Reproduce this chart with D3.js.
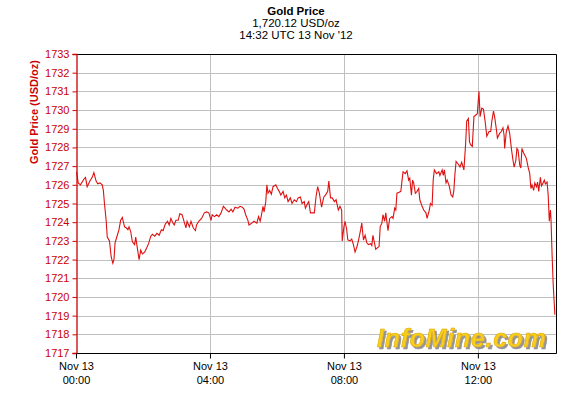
<!DOCTYPE html>
<html>
<head>
<meta charset="utf-8">
<script src="https://cdn.jsdelivr.net/npm/d3@7"></script>
<style>
  body { margin: 0; background: #fff; }
  text { font-family: "Liberation Sans", Arial, sans-serif; }
</style>
</head>
<body>
<script>
// minutes after 00:00 UTC, 13 Nov 2012
var minutes = [1, 4, 8, 14, 17, 20, 25, 29, 32, 36, 39, 43, 47, 49, 51, 54, 56, 60, 63, 66, 68, 70, 74, 77, 80, 83, 85, 87, 90, 93, 95, 98, 101, 105, 107, 110, 113, 116, 119, 123, 127, 130, 134, 137, 141, 145, 149, 153, 156, 160, 164, 167, 170, 173, 176, 179, 183, 186, 190, 193, 197, 199, 203, 206, 210, 214, 216, 220,
  225, 230, 234, 238, 242, 244, 248, 252, 256, 260, 264, 267, 270, 274, 278, 281, 285, 290, 294, 298, 301, 304, 308, 310, 315, 319, 324, 327, 330, 333, 335, 337, 340, 342, 344, 347, 350, 353, 358, 361, 364, 367, 371, 374, 377, 380, 384, 387, 391, 395, 398, 402, 405, 409, 411, 415, 417, 420, 423, 427, 430, 433, 436, 440, 444, 447, 451, 453, 456, 459, 463, 466, 470, 473, 476,
  477, 480, 482, 485, 487, 491, 494, 497, 500, 504, 507, 510, 512, 515, 518, 521, 524, 528, 530, 532, 535, 537, 541, 543, 545, 548, 550, 553, 555, 559, 562, 566, 568, 571, 573, 575, 579, 582, 584, 586, 590, 593, 596, 598, 601, 603, 605, 608, 611, 614, 616, 620, 623, 627, 629, 633, 635, 638, 640, 642, 646, 650, 652, 656, 658, 660, 663, 665, 669, 672, 675, 677, 679,
  681, 685, 688, 691, 694, 695, 698, 700, 703, 705, 707, 710, 713, 717, 719, 722, 724, 727, 730, 733, 736, 740, 743, 745, 748, 750, 753, 755, 759, 762, 765, 767, 768, 771, 774, 777, 780, 783, 785, 788, 790, 792, 795, 797, 799, 802, 804, 807, 810, 813, 815, 817, 820, 822, 825, 827, 829, 832, 834, 836, 839, 841, 844, 846, 848, 850, 851, 853, 855, 858];

var prices = [1726.7, 1726.1, 1726.0, 1726.3, 1726.4, 1725.9, 1726.2, 1726.4, 1726.65, 1726.2, 1726.05, 1726.1, 1726.0, 1725.7, 1725.0, 1724.1, 1723.2, 1723.0, 1722.15, 1721.8, 1722.0, 1722.9, 1723.3, 1723.6, 1724.1, 1724.25, 1724.0, 1723.75, 1723.7, 1723.6, 1723.75, 1723.5, 1722.95, 1722.8, 1723.2, 1722.6, 1722.0, 1722.5, 1722.3, 1722.4, 1722.65, 1722.85, 1723.25, 1723.35, 1723.25, 1723.4, 1723.3, 1723.6, 1723.55, 1723.9, 1724.05, 1723.85, 1724.2, 1724.0, 1723.85, 1724.1, 1724.1, 1724.45, 1724.4, 1724.1, 1723.7, 1724.05, 1723.75, 1724.05, 1723.7, 1723.55, 1723.85, 1724.05,
  1724.2, 1724.5, 1724.55, 1724.5, 1724.1, 1724.4, 1724.3, 1724.4, 1724.3, 1724.5, 1724.85, 1724.75, 1724.65, 1724.55, 1724.7, 1724.55, 1724.8, 1724.75, 1724.85, 1724.8, 1724.7, 1724.4, 1724.1, 1723.85, 1723.95, 1724.05, 1723.95, 1724.3, 1724.05, 1724.5, 1724.85, 1724.55, 1725.1, 1726.0, 1725.55, 1725.7, 1725.5, 1725.9, 1726.0, 1725.8, 1725.65, 1725.45, 1725.65, 1725.3, 1725.45, 1725.1, 1725.3, 1725.0, 1725.2, 1725.1, 1725.3, 1725.35, 1725.0, 1725.1, 1724.75, 1725.0, 1725.1, 1724.5, 1724.5, 1724.5, 1725.35, 1725.9, 1725.55, 1724.8, 1725.35, 1725.45, 1725.65, 1726.2, 1725.3, 1725.3, 1725.1, 1725.2, 1724.65, 1724.85, 1724.65,
  1723.0, 1723.75, 1724.05, 1723.6, 1723.05, 1723.0, 1723.1, 1722.8, 1722.4, 1722.75, 1723.15, 1723.6, 1723.95, 1723.05, 1723.3, 1722.9, 1722.8, 1722.85, 1722.75, 1723.3, 1722.85, 1722.55, 1722.65, 1722.7, 1723.75, 1723.95, 1724.4, 1724.05, 1724.5, 1723.55, 1724.2, 1724.3, 1724.2, 1724.75, 1724.65, 1725.55, 1725.6, 1725.65, 1726.2, 1726.7, 1726.6, 1726.75, 1726.25, 1726.35, 1725.45, 1726.25, 1726.1, 1725.55, 1725.65, 1725.8, 1725.2, 1724.85, 1724.65, 1724.5, 1724.2, 1724.65, 1725.0, 1724.9, 1726.25, 1726.8, 1726.6, 1726.7, 1726.5, 1726.8, 1726.5, 1726.8, 1726.1, 1726.25, 1725.9, 1725.45, 1725.35, 1725.7, 1726.6,
  1727.25, 1727.1, 1726.95, 1727.2, 1726.9, 1726.8, 1728.15, 1729.4, 1729.55, 1728.3, 1728.15, 1728.05, 1729.65, 1729.75, 1729.8, 1731.0, 1729.65, 1730.1, 1730.05, 1729.4, 1728.6, 1728.85, 1728.85, 1729.4, 1729.95, 1729.65, 1729.0, 1728.5, 1728.75, 1728.85, 1729.05, 1728.65, 1727.95, 1728.85, 1729.15, 1728.75, 1727.95, 1727.3, 1726.95, 1727.3, 1727.95, 1727.85, 1727.05, 1726.9, 1727.95, 1727.7, 1727.6, 1727.4, 1726.95, 1726.6, 1725.8, 1726.0, 1725.7, 1726.1, 1725.9, 1726.15, 1725.65, 1726.4, 1725.95, 1726.05, 1726.25, 1726.05, 1726.15, 1725.45, 1724.05, 1724.65, 1724.2, 1722.25, 1720.65, 1719.05];

var xTicks = [0, 240, 480, 720];
var xTickDay = ["Nov 13", "Nov 13", "Nov 13", "Nov 13"];
var xTickTime = ["00:00", "04:00", "08:00", "12:00"];
var titleLines = ["Gold Price", "1,720.12 USD/oz", "14:32 UTC 13 Nov '12"];
var yLabel = "Gold Price (USD/oz)";
var logoText = "InfoMine.com";

var W = 573, H = 399;
var margin = { top: 54, right: 17, bottom: 46, left: 76 };
var width = W - margin.left - margin.right;
var height = H - margin.top - margin.bottom;
var red = "#cc0000";

var svg = d3.select("body").append("svg")
  .attr("width", W).attr("height", H);

// drop shadow for the logo
var shadow = svg.append("defs").append("filter")
  .attr("id", "logoShadow")
  .attr("x", "-5%").attr("y", "-20%").attr("width", "115%").attr("height", "150%");
shadow.append("feDropShadow")
  .attr("dx", 2).attr("dy", 2).attr("stdDeviation", 0.6)
  .attr("flood-color", "#888").attr("flood-opacity", 0.9);

// titles
svg.selectAll(".title")
  .data(titleLines)
  .enter().append("text")
  .attr("x", 296)
  .attr("y", function(d, i) { return 15 + i * 12; })
  .attr("text-anchor", "middle")
  .style("font-size", "11.5px")
  .style("font-weight", function(d, i) { return i == 0 ? "bold" : "normal"; })
  .text(function(d) { return d; });

var g = svg.append("g")
  .attr("transform", "translate(" + margin.left + "," + margin.top + ")");

var x = d3.scaleLinear().domain([0, 860]).range([0, width]);
var y = d3.scaleLinear().domain([1717, 1733]).range([height, 0]);

// grid lines
g.selectAll(".hgrid")
  .data(d3.range(1718, 1733))
  .enter().append("line")
  .attr("x1", 0).attr("x2", width)
  .attr("y1", function(d) { return Math.round(y(d)) + 0.5; })
  .attr("y2", function(d) { return Math.round(y(d)) + 0.5; })
  .attr("stroke", "#c0c0c0");

g.selectAll(".vgrid")
  .data(xTicks.slice(1))
  .enter().append("line")
  .attr("y1", 0).attr("y2", height)
  .attr("x1", function(d) { return Math.round(x(d)) + 0.5; })
  .attr("x2", function(d) { return Math.round(x(d)) + 0.5; })
  .attr("stroke", "#c0c0c0");

// the logo watermark
g.append("text")
  .attr("x", width - 10).attr("y", height - 6)
  .attr("text-anchor", "end")
  .attr("textLength", 169)
  .attr("filter", "url(#logoShadow)")
  .style("font-size", "25px").style("font-weight", "bold").style("font-style", "italic")
  .style("fill", "#f6cf1d").style("stroke", "#e0a800").style("stroke-width", 0.6)
  .text(logoText);

// price line
var line = d3.line()
  .x(function(d, i) { return x(minutes[i]); })
  .y(function(d) { return y(d); });

g.append("path")
  .datum(prices)
  .attr("fill", "none")
  .attr("stroke", "#dd1111")
  .attr("stroke-width", 1.1)
  .attr("d", line);

// frame
g.append("path")
  .attr("d", "M0.5,0.5H" + (width + 0.5) + "V" + (height + 0.5) + "H0.5")
  .attr("fill", "none").attr("stroke", "#000");

// y axis
var yAxis = g.append("g")
  .attr("transform", "translate(0.5,0)")
  .call(d3.axisLeft(y).tickValues(d3.range(1717, 1734)).tickFormat(d3.format("d")).tickSize(4).tickPadding(3));
yAxis.select(".domain").attr("stroke", red).attr("stroke-width", 1.3);
yAxis.selectAll(".tick line").attr("stroke", red);
yAxis.selectAll(".tick text")
  .attr("fill", red)
  .style("font-size", "11px")
  .style("font-family", "Liberation Sans, Arial, sans-serif");

// x axis
var xAxis = g.append("g")
  .attr("transform", "translate(0," + (height + 0.5) + ")")
  .call(d3.axisBottom(x).tickValues(xTicks).tickSize(5).tickFormat(""));
xAxis.select(".domain").remove();
xAxis.selectAll(".tick line").attr("stroke", "#000");
xAxis.selectAll(".tick").each(function(d, i) {
  var t = d3.select(this).append("text")
    .attr("fill", "#000")
    .attr("text-anchor", "middle")
    .style("font-size", "11px")
    .style("font-family", "Liberation Sans, Arial, sans-serif");
  t.append("tspan").attr("x", 0).attr("y", 16).text(xTickDay[i]);
  t.append("tspan").attr("x", 0).attr("y", 30).text(xTickTime[i]);
});

// y axis title
svg.append("text")
  .attr("transform", "translate(38,112) rotate(-90)")
  .attr("text-anchor", "middle")
  .attr("fill", red)
  .style("font-size", "11px")
  .style("font-weight", "bold")
  .text(yLabel);
</script>
</body>
</html>
